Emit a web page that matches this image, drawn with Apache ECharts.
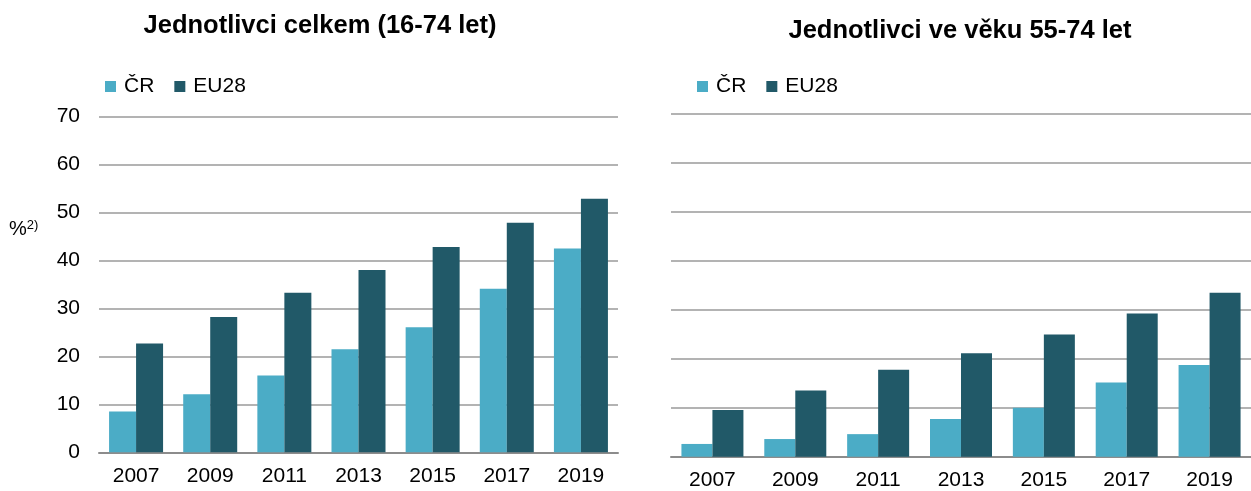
<!DOCTYPE html>
<html>
<head>
<meta charset="utf-8">
<script src="https://cdn.jsdelivr.net/npm/echarts@6/dist/echarts.min.js"></script>
<style>html,body{margin:0;padding:0;background:#fff}#c{width:1251px;height:491px}</style>
</head>
<body>
<div id="c"></div>
<script>
const years = ['2007','2009','2011','2013','2015','2017','2019'];
const yTicks = [0,10,20,30,40,50,60,70];
const totalCR = [8.5,12.1,16.0,21.5,26.1,34.1,42.5];
const totalEU = [22.7,28.2,33.3,38.0,42.8,47.9,52.9];
const olderCR = [2.6,3.6,4.6,7.7,10.0,15.1,18.7];
const olderEU = [9.5,13.5,17.7,21.1,24.9,29.2,33.4];
const titles = ['Jednotlivci celkem (16-74 let)','Jednotlivci ve věku 55-74 let'];
const seriesNames = ['ČR','EU28'];

const cLight = '#4BACC6', cDark = '#215968';
const font = 'Liberation Sans, Arial, sans-serif';
const fs = 21;
const chart = echarts.init(document.getElementById('c'));
const axisX = (gi) => ({
  type:'category', gridIndex:gi, data:years,
  axisLine:{lineStyle:{color:'#8c8c8c',width:2}},
  axisTick:{show:false},
  axisLabel:{color:'#000',fontSize:fs,fontFamily:font,margin:13}
});
const axisY = (gi, showLabel) => ({
  type:'value', gridIndex:gi, min:yTicks[0], max:yTicks[yTicks.length-1], interval:10,
  axisLine:{show:false}, axisTick:{show:false},
  axisLabel:{show:showLabel,color:'#000',fontSize:fs,fontFamily:font,margin:19},
  splitLine:{lineStyle:{color:'#9a9a9a',width:1.5}}
});
const bar = (name, data, gi, color, w) => ({
  type:'bar', name, data, xAxisIndex:gi, yAxisIndex:gi,
  barWidth:w, barGap:'0%', itemStyle:{color},
  animation:false
});
const legendCommon = {data:seriesNames,top:71,icon:'rect',itemWidth:11,itemHeight:11,itemGap:20,
  textStyle:{fontSize:fs,color:'#000',fontFamily:font,padding:[0,0,0,3]}};
chart.setOption({
  animation:false,
  title:[
    {text:titles[0],left:315,top:8,textAlign:'center',textStyle:{fontSize:25.5,fontWeight:'bold',color:'#000',fontFamily:font}},
    {text:titles[1],left:955,top:13,textAlign:'center',textStyle:{fontSize:25.5,fontWeight:'bold',color:'#000',fontFamily:font}}
  ],
  legend:[
    Object.assign({left:100}, legendCommon),
    Object.assign({left:692}, legendCommon)
  ],
  graphic:[{
    type:'text', left:9, top:219,
    style:{text:'{a|%}{b|2)}',rich:{a:{fontSize:20,fontFamily:font,fill:'#000'},b:{fontSize:13,fontFamily:font,fill:'#000',verticalAlign:'top',padding:[0,0,8,0]}}}
  }],
  grid:[
    {left:99,top:116.7,width:519,bottom:38.7},
    {left:671,top:113.3,width:591,bottom:34.3}
  ],
  xAxis:[axisX(0),axisX(1)],
  yAxis:[axisY(0,true),axisY(1,false)],
  series:[
    bar(seriesNames[0],totalCR,0,cLight,27),
    bar(seriesNames[1],totalEU,0,cDark,27),
    bar(seriesNames[0],olderCR,1,cLight,31),
    bar(seriesNames[1],olderEU,1,cDark,31)
  ]
});
</script>
</body>
</html>
